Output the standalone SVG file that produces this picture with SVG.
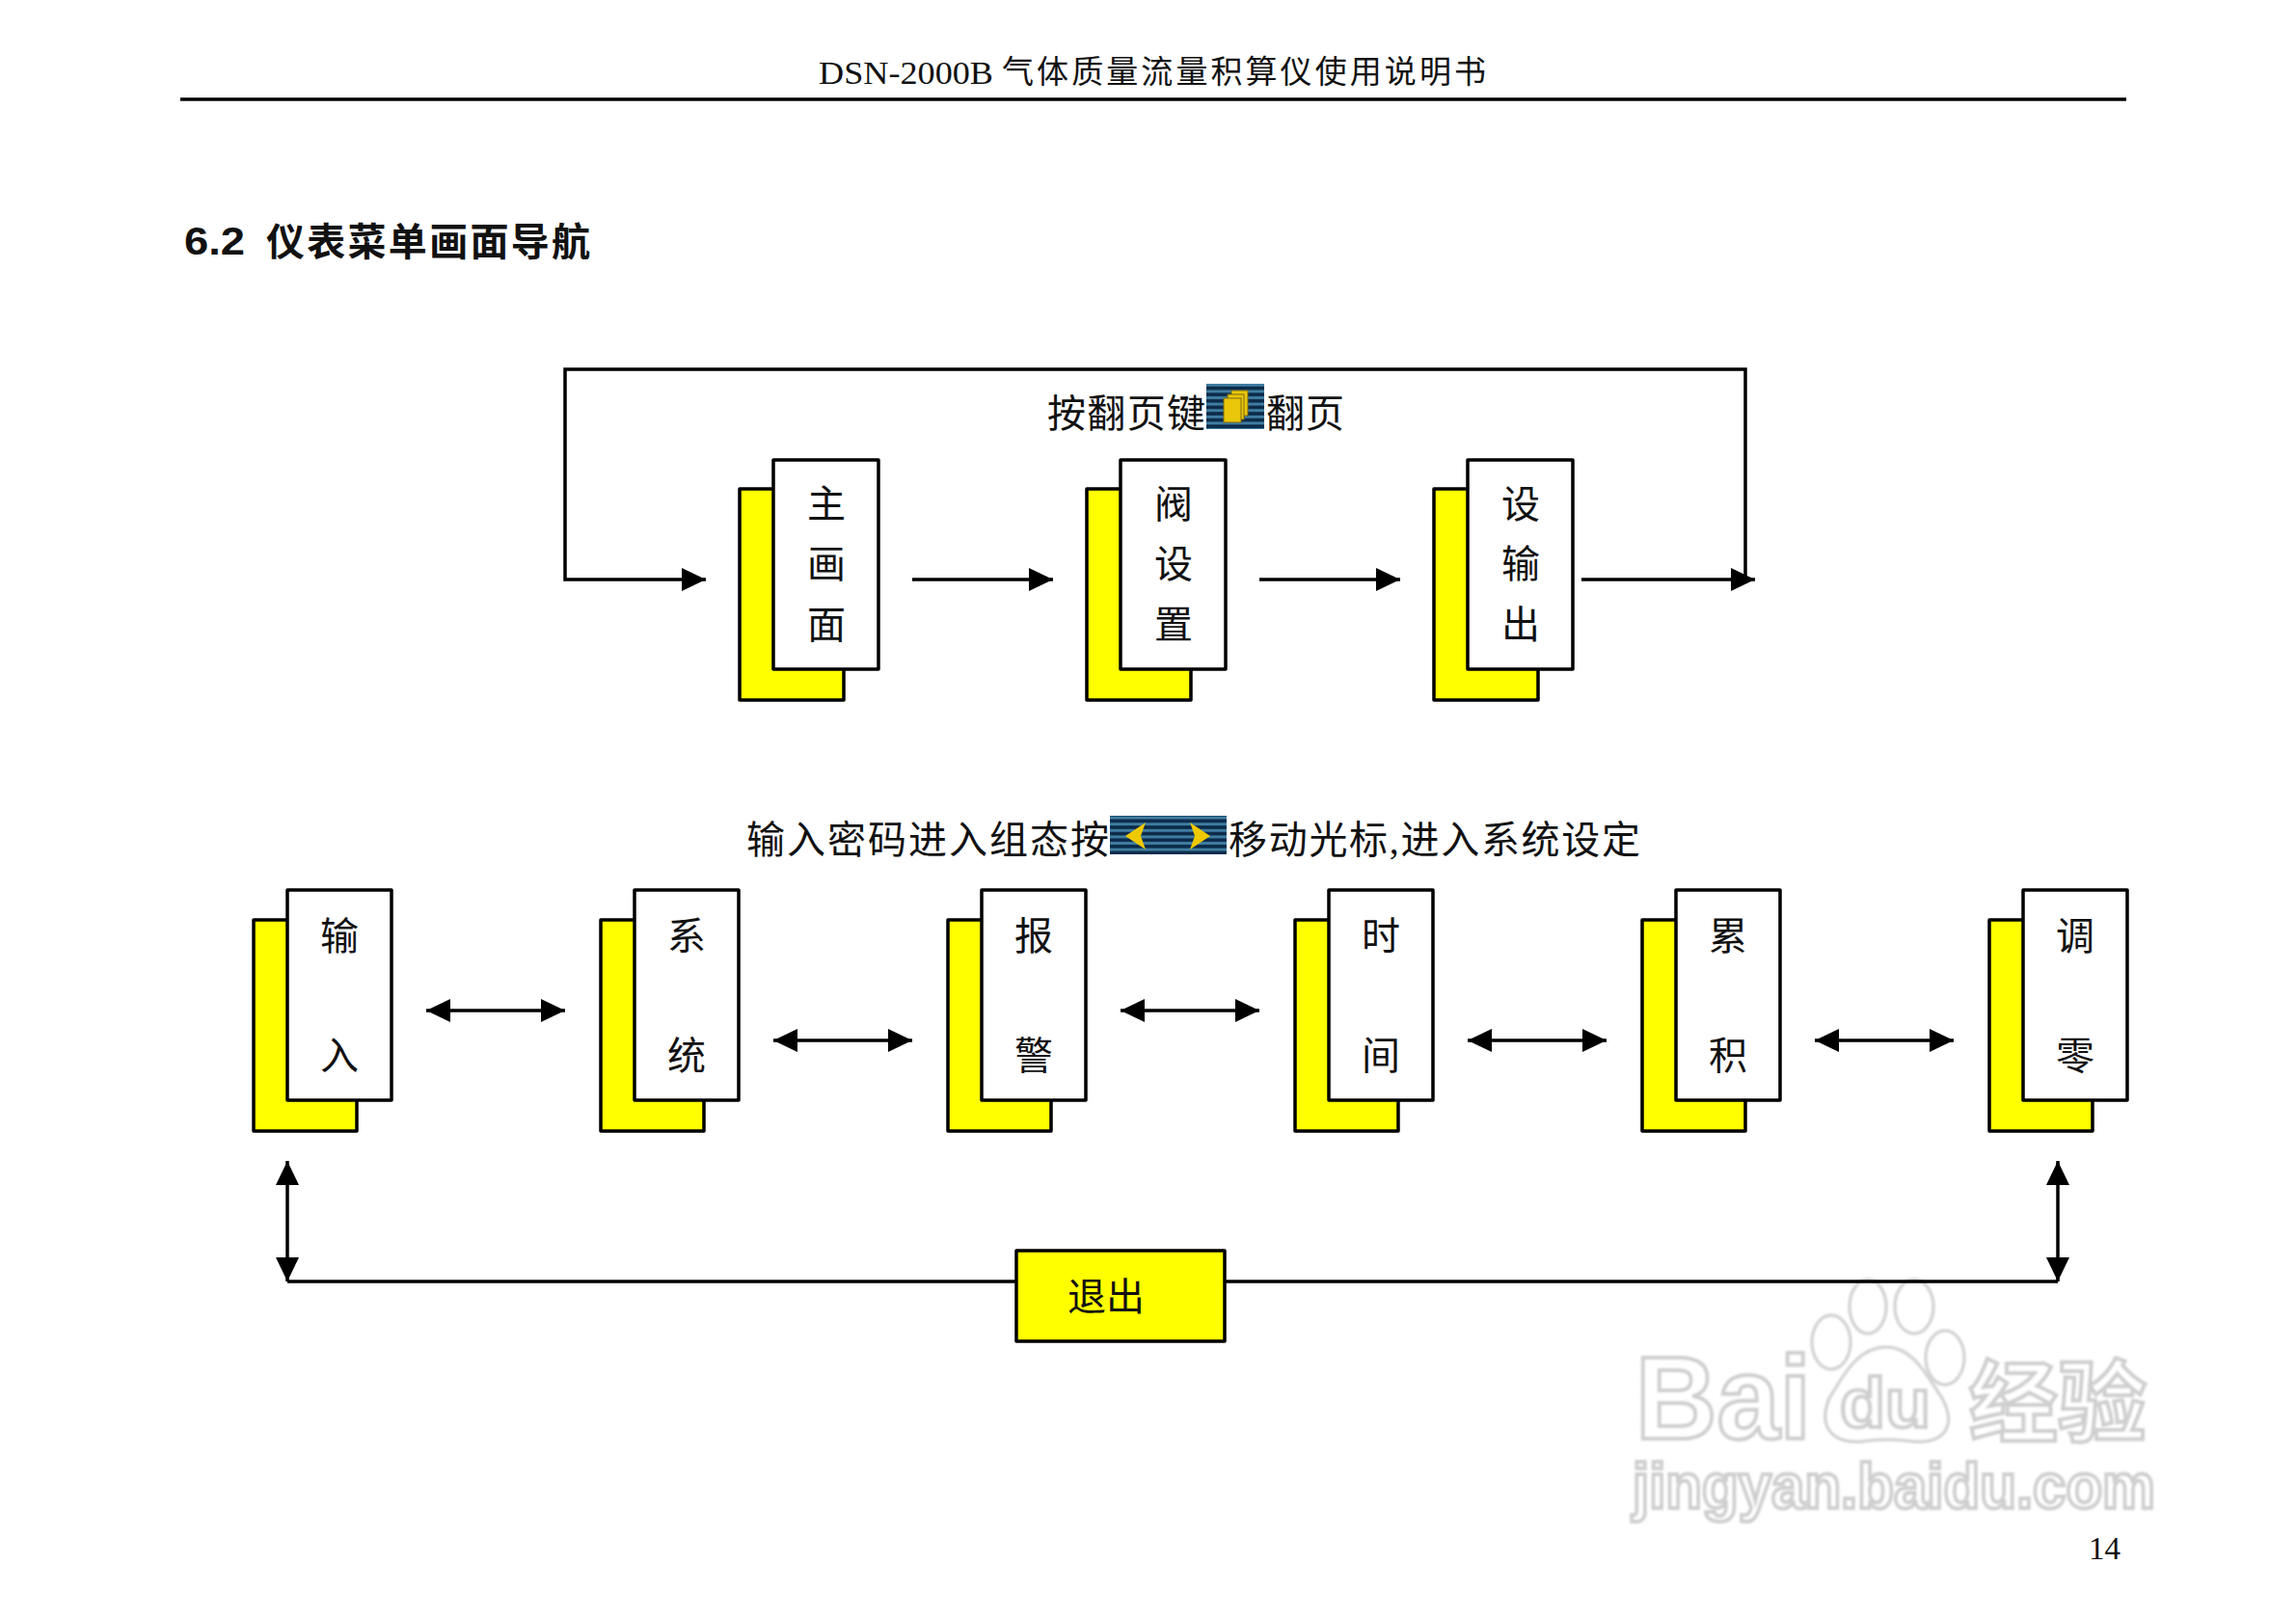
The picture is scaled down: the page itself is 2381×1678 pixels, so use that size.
<svg xmlns="http://www.w3.org/2000/svg" width="2381" height="1678" viewBox="0 0 2381 1678">
<style>
text{font-family:"Liberation Serif","Noto Sans CJK SC",serif;fill:#111}
.cn{font-size:40px;font-weight:400;text-anchor:middle}
.lbl{font-size:40px}
.hd{font-size:33px}
.ttl{font-family:"Liberation Sans","Noto Sans CJK SC",sans-serif;font-size:40px;font-weight:700}
.ln{fill:none;stroke:#000;stroke-width:3.5}
.back{fill:#ff0;stroke:#000;stroke-width:3.5;stroke-linejoin:round}
.front{fill:#fff;stroke:#000;stroke-width:3.5;stroke-linejoin:round}
.wm{fill:#fff;stroke:#cfcfcf;stroke-width:4;font-family:"Liberation Sans","Noto Sans CJK SC",sans-serif;font-weight:700}
.wms{fill:#fff;stroke:#d4d4d4;stroke-width:3.5}
.pg{fill:#e9c60a;stroke:#7d6a10;stroke-width:1}
</style>
<defs>
<marker id="a" viewBox="0 0 25 24" refX="25" refY="12" markerUnits="userSpaceOnUse" markerWidth="25" markerHeight="24" orient="auto-start-reverse"><path d="M0 0L25 12L0 24z" fill="#000"/></marker>
<pattern id="st" width="6.6" height="6.6" patternUnits="userSpaceOnUse"><rect width="6.6" height="6.6" fill="#0c2a4a"/><rect y="1.8" width="6.6" height="3" fill="#3f7da0"/></pattern>
<filter id="bl" x="-5%" y="-5%" width="110%" height="110%"><feGaussianBlur stdDeviation="1.3"/></filter>
</defs>
<rect width="2381" height="1678" fill="#fff"/>

<g id="header">
<text class="hd" x="849" y="87" textLength="181" lengthAdjust="spacingAndGlyphs">DSN-2000B</text>
<text class="hd" x="1039" y="86" textLength="502" lengthAdjust="spacing">气体质量流量积算仪使用说明书</text>
<line x1="187" y1="103" x2="2205" y2="103" stroke="#000" stroke-width="3.5"/>
<text class="ttl" x="191" y="264" textLength="63" lengthAdjust="spacingAndGlyphs">6.2</text>
<text class="ttl" x="276" y="265" textLength="336" lengthAdjust="spacing">仪表菜单画面导航</text>
<text x="2166" y="1617" font-size="33">14</text>
</g>

<g id="watermark" filter="url(#bl)">
<ellipse class="wms" cx="1899" cy="1392" rx="20" ry="28"/>
<ellipse class="wms" cx="1937" cy="1355" rx="19" ry="28"/>
<ellipse class="wms" cx="1985" cy="1355" rx="20" ry="28"/>
<ellipse class="wms" cx="2017" cy="1408" rx="20" ry="28"/>
<path class="wms" d="M1956 1397C1985 1397 2000 1430 2014 1450C2030 1480 2015 1497 1985 1495C1965 1492 1950 1492 1930 1495C1900 1497 1885 1480 1897 1450C1910 1430 1925 1397 1956 1397z"/>
<text class="wm" x="1696" y="1492" font-size="122" textLength="182" lengthAdjust="spacingAndGlyphs">Bai</text>
<text class="wm" x="1908" y="1480" font-size="72" textLength="94" lengthAdjust="spacingAndGlyphs">du</text>
<text class="wm" x="2042" y="1488" font-size="92" textLength="184" lengthAdjust="spacingAndGlyphs">经验</text>
<text class="wm" x="1693" y="1564" font-size="66" textLength="542" lengthAdjust="spacingAndGlyphs">jingyan.baidu.com</text>
</g>

<g id="connectors">
<path class="ln" d="M1810 601V383H586V601H732" marker-end="url(#a)"/>
<path class="ln" d="M946 601H1092" marker-end="url(#a)"/>
<path class="ln" d="M1306 601H1452" marker-end="url(#a)"/>
<path class="ln" d="M1640 601H1820" marker-end="url(#a)"/>
<path class="ln" d="M442 1048H586" marker-start="url(#a)" marker-end="url(#a)"/>
<path class="ln" d="M802 1079H946" marker-start="url(#a)" marker-end="url(#a)"/>
<path class="ln" d="M1162 1048H1306" marker-start="url(#a)" marker-end="url(#a)"/>
<path class="ln" d="M1522 1079H1666" marker-start="url(#a)" marker-end="url(#a)"/>
<path class="ln" d="M1882 1079H2026" marker-start="url(#a)" marker-end="url(#a)"/>
<path class="ln" d="M298 1204V1329" marker-start="url(#a)" marker-end="url(#a)"/>
<path class="ln" d="M2134 1204V1329" marker-start="url(#a)" marker-end="url(#a)"/>
<path class="ln" d="M298 1329H2134"/>
</g>

<g id="caption-top">
<text class="lbl" x="1086" y="443" textLength="164" lengthAdjust="spacing">按翻页键</text>
<rect x="1251" y="398" width="60" height="47" fill="url(#st)"/>
<rect class="pg" x="1277" y="405" width="17" height="26"/>
<rect class="pg" x="1273" y="409" width="17" height="26"/>
<rect class="pg" x="1269" y="413" width="18" height="25"/>
<text class="lbl" x="1313" y="443" textLength="81" lengthAdjust="spacing">翻页</text>
</g>

<g id="caption-bottom">
<text class="lbl" x="774" y="885" textLength="376" lengthAdjust="spacing">输入密码进入组态按</text>
<rect x="1151" y="846" width="121" height="40" fill="url(#st)"/>
<path d="M1167 867L1188 853L1183 867L1188 881z" fill="#eec900"/>
<path d="M1255 867L1234 853L1239 867L1234 881z" fill="#eec900"/>
<text class="lbl" x="1274" y="885" textLength="427" lengthAdjust="spacing">移动光标,进入系统设定</text>
</g>

<g id="node-main"><rect class="back" x="767" y="507" width="108" height="219"/><rect class="front" x="802" y="477" width="109" height="217"/><text class="cn" x="857" y="537">主</text><text class="cn" x="857" y="599">画</text><text class="cn" x="857" y="662">面</text></g>
<g id="node-valve"><rect class="back" x="1127" y="507" width="108" height="219"/><rect class="front" x="1162" y="477" width="109" height="217"/><text class="cn" x="1217" y="537">阀</text><text class="cn" x="1217" y="599">设</text><text class="cn" x="1217" y="662">置</text></g>
<g id="node-output"><rect class="back" x="1487" y="507" width="108" height="219"/><rect class="front" x="1522" y="477" width="109" height="217"/><text class="cn" x="1577" y="537">设</text><text class="cn" x="1577" y="599">输</text><text class="cn" x="1577" y="662">出</text></g>

<g id="node-input"><rect class="back" x="263" y="954" width="107" height="219"/><rect class="front" x="298" y="923" width="108" height="218"/><text class="cn" x="352" y="985">输</text><text class="cn" x="352" y="1109">入</text></g>
<g id="node-system"><rect class="back" x="623" y="954" width="107" height="219"/><rect class="front" x="658" y="923" width="108" height="218"/><text class="cn" x="712" y="985">系</text><text class="cn" x="712" y="1109">统</text></g>
<g id="node-alarm"><rect class="back" x="983" y="954" width="107" height="219"/><rect class="front" x="1018" y="923" width="108" height="218"/><text class="cn" x="1072" y="985">报</text><text class="cn" x="1072" y="1109">警</text></g>
<g id="node-time"><rect class="back" x="1343" y="954" width="107" height="219"/><rect class="front" x="1378" y="923" width="108" height="218"/><text class="cn" x="1432" y="985">时</text><text class="cn" x="1432" y="1109">间</text></g>
<g id="node-total"><rect class="back" x="1703" y="954" width="107" height="219"/><rect class="front" x="1738" y="923" width="108" height="218"/><text class="cn" x="1792" y="985">累</text><text class="cn" x="1792" y="1109">积</text></g>
<g id="node-zero"><rect class="back" x="2063" y="954" width="107" height="219"/><rect class="front" x="2098" y="923" width="108" height="218"/><text class="cn" x="2152" y="985">调</text><text class="cn" x="2152" y="1109">零</text></g>

<g id="node-exit"><rect class="back" x="1054" y="1297" width="216" height="94"/><text class="cn" x="1147" y="1359">退出</text></g>
</svg>
